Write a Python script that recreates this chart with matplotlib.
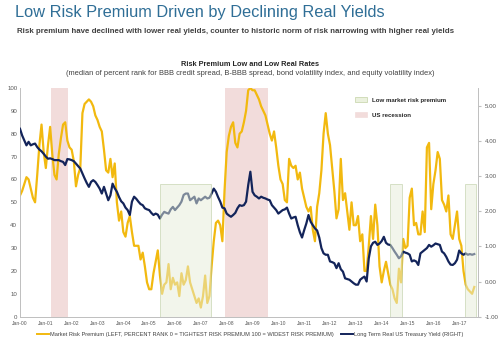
import numpy as np
import matplotlib.pyplot as plt
from matplotlib.patches import Patch
from matplotlib.lines import Line2D

plt.rcParams['font.family'] = ['Liberation Sans', 'DejaVu Sans']

# monthly data, Jan-2000 .. Aug-2017
risk_premium = [
    53, 55, 58, 61, 60, 56, 52, 50, 62, 75, 84, 72,      # 2000
    65, 75, 83, 71, 62, 60, 71, 78, 84, 85, 77, 74,      # 2001
    73, 68, 57, 62, 65, 89, 93, 94, 95, 94, 92, 88,      # 2002
    86, 83, 81, 73, 64, 63, 69, 61, 67, 50, 42, 46,      # 2003
    37, 35, 41, 44, 37, 31, 31, 31, 25, 28, 22, 15,      # 2004
    12, 12, 19, 24, 29, 18, 10, 14, 15, 23, 12, 17,      # 2005
    14, 15, 9, 19, 14, 16, 22, 15, 12, 9, 6, 8,          # 2006
    4, 9, 18, 6, 9, 22, 33, 41, 42, 40, 33, 55,          # 2007
    72, 79, 83, 85, 76, 74, 80, 81, 85, 90, 99, 100,     # 2008
    99, 99, 97, 95, 92, 90, 88, 84, 80, 77, 81, 74,      # 2009
    66, 60, 58, 51, 50, 69, 66, 65, 66, 60, 63, 56,      # 2010
    52, 48, 46, 48, 38, 33, 48, 54, 64, 80, 89, 80,      # 2011
    75, 65, 55, 43, 47, 69, 51, 54, 46, 38, 50, 40,      # 2012
    40, 44, 33, 36, 20, 20, 31, 44, 34, 49, 40, 22,      # 2013
    15, 20, 24, 19, 14, 12, 8, 6, 21, 15, 34, 30,        # 2014
    31, 52, 56, 40, 41, 36, 36, 46, 37, 74, 76, 47,      # 2015
    58, 64, 72, 69, 51, 49, 46, 53, 36, 34, 40, 46,      # 2016
    34, 31, 20, 14, 12, 11, 10, 13,                      # 2017
]

real_yield = [
    4.34, 4.15, 4.01, 3.87, 3.97, 3.87, 3.90, 3.92, 3.82, 3.75, 3.70, 3.63,   # 2000
    3.55, 3.49, 3.50, 3.48, 3.45, 3.45, 3.45, 3.42, 3.40, 3.31, 3.48, 3.47,   # 2001
    3.45, 3.42, 3.35, 3.28, 3.21, 3.07, 2.93, 2.80, 2.69, 2.83, 2.88, 2.83,   # 2002
    2.74, 2.64, 2.50, 2.69, 2.50, 2.31, 2.45, 2.78, 2.65, 2.55, 2.40, 2.28,   # 2003
    2.22, 2.10, 2.03, 1.89, 2.27, 2.41, 2.35, 2.27, 2.20, 2.17, 2.08, 2.05,   # 2004
    2.03, 1.95, 1.89, 1.93, 1.90, 1.79, 1.90, 1.98, 1.95, 1.93, 2.05, 2.12,   # 2005
    2.03, 2.10, 2.17, 2.27, 2.46, 2.50, 2.50, 2.31, 2.36, 2.41, 2.22, 2.36,   # 2006
    2.31, 2.36, 2.41, 2.36, 2.38, 2.50, 2.64, 2.55, 2.40, 2.27, 2.10, 2.08,   # 2007
    1.93, 1.88, 1.84, 1.89, 1.95, 2.08, 2.17, 2.15, 2.17, 2.27, 2.74, 3.12,   # 2008
    2.55, 2.45, 2.41, 2.36, 2.41, 2.38, 2.36, 2.33, 2.31, 2.17, 2.10, 2.03,   # 2009
    1.93, 1.98, 2.03, 2.05, 2.10, 1.93, 1.79, 1.82, 1.84, 1.60, 1.40, 1.25,   # 2010
    1.46, 1.65, 1.89, 1.70, 1.60, 1.51, 1.45, 1.25, 0.95, 0.80, 0.76, 0.76,   # 2011
    0.57, 0.55, 0.52, 0.38, 0.52, 0.35, 0.28, 0.09, 0.07, 0.05, 0.00, -0.05,  # 2012
    -0.09, -0.09, 0.05, 0.10, 0.14, 0.00, 0.66, 1.00, 1.10, 1.13, 1.04, 1.08, # 2013
    1.15, 1.27, 1.10, 1.05, 1.04, 0.95, 0.85, 0.76, 0.66, 0.72, 0.85, 0.82,   # 2014
    0.80, 0.76, 0.57, 0.60, 0.57, 0.47, 0.80, 0.85, 0.90, 0.95, 1.04, 0.99,   # 2015
    1.03, 1.08, 1.06, 1.04, 0.85, 0.80, 0.70, 0.57, 0.48, 0.47, 0.52, 0.62,   # 2016
    0.88, 0.80, 0.76, 0.80, 0.76, 0.78, 0.76, 0.78,                           # 2017
]

tick_labels = ['Jan-%02d' % y for y in range(0, 18)]

# shaded periods, in months since Jan-2000
recessions = [(14.4, 22.3), (95.3, 115.4)]
low_premium = [(65.0, 88.6), (171.9, 177.4), (206.8, 211.9)]
box_top = 58

yellow = '#F2B90F'
navy = '#13245A'
grey = '#595959'

months = np.arange(len(risk_premium))

fig = plt.figure(figsize=(5, 3.43), dpi=100)
ax = fig.add_axes([0.04, 0.0767, 0.915, 0.6668])
ax2 = ax.twinx()

for a, b in recessions:
    ax.axvspan(a, b, color='#F2DCDB', zorder=0, lw=0)

ax.plot(months, risk_premium, color=yellow, lw=1.6, zorder=3)
ax2.plot(months, real_yield, color=navy, lw=1.6, zorder=3)

# green boxes sit on top of the lines, so the lines show through faded
for a, b in low_premium:
    ax2.axvspan(a, b, ymin=0, ymax=box_top / 100, facecolor='#E6EDD8', alpha=0.5,
                edgecolor='#A7BE87', lw=0.6, zorder=5)

ax.set_xlim(0, 212.5)
ax.set_ylim(0, 100)
ax2.set_ylim(-1, 5.5)
ax.set_yticks(range(0, 101, 10))
ax2.set_yticks(range(-1, 6))
ax2.set_yticklabels(['%.2f' % v for v in range(-1, 6)])
ax.set_xticks(np.arange(len(tick_labels)) * 12)
ax.set_xticklabels(tick_labels)

for a in (ax, ax2):
    a.tick_params(axis='both', labelsize=4.4, colors=grey, length=0, pad=2)
    a.spines['top'].set_visible(False)
    for s in ('left', 'right', 'bottom'):
        a.spines[s].set_color('#BFBFBF')
        a.spines[s].set_linewidth(0.6)
ax.tick_params(axis='x', labelsize=3.6, pad=3)
ax2.tick_params(axis='y', length=2, color='#BFBFBF', pad=3)
ax.set_zorder(ax2.get_zorder() - 1)
ax.patch.set_visible(False)

# legend for shaded areas
shade_handles = [Patch(facecolor='#EBF1DE', edgecolor='#C4D3A6', lw=0.5),
                 Patch(facecolor='#F2DCDB', edgecolor='#F2DCDB', lw=0.5)]
leg = ax2.legend(shade_handles, ['Low market risk premium', 'US recession'],
                 loc='upper left', bbox_to_anchor=(0.72, 0.985), frameon=False,
                 prop={'size': 4.4, 'weight': 'bold'}, labelspacing=1.5,
                 handlelength=2.0, handleheight=1.0, labelcolor='#262626')

# legend for lines below the plot
line_handles = [Line2D([], [], color=yellow, lw=1.4), Line2D([], [], color=navy, lw=1.4)]
fig.legend(line_handles,
           ['Market Risk Premium (LEFT, PERCENT RANK 0 = TIGHTEST RISK PREMIUM 100 = WIDEST RISK PREMIUM)',
            'Long Term Real US Treasury Yield (RIGHT)'],
           loc='center', bbox_to_anchor=(0.5, 0.025), ncol=2, frameon=False,
           prop={'size': 4.1}, handlelength=2.2, handletextpad=0.1, columnspacing=1.2,
           labelcolor='#404040')

fig.text(0.03, 0.965, 'Low Risk Premium Driven by Declining Real Yields',
         fontsize=11.8, color='#2F6E96', va='center', ha='left')
fig.text(0.034, 0.908, 'Risk premium have declined with lower real yields, counter to historic norm '
         'of risk narrowing with higher real yields',
         fontsize=5.7, color='#404040', weight='bold', va='center', ha='left')
fig.text(0.5, 0.813, 'Risk Premium Low and Low Real Rates', fontsize=5.3, weight='bold',
         color='#262626', ha='center', va='center')
fig.text(0.5, 0.785, '(median of percent rank for BBB credit spread, B-BBB spread, bond volatility '
         'index, and equity volatility index)', fontsize=5.4, color='#404040',
         ha='center', va='center')

fig.savefig('out.png', dpi=100)
